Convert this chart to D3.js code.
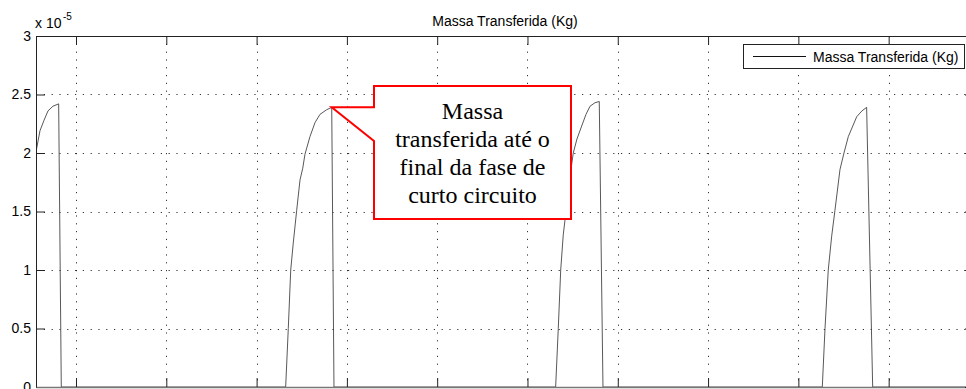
<!DOCTYPE html>
<html>
<head>
<meta charset="utf-8">
<script src="https://cdn.jsdelivr.net/npm/d3@7/dist/d3.min.js"></script>
<style>
  html, body { margin: 0; padding: 0; background: #fff; overflow: hidden; }
  svg { display: block; }
  .tick text { font-family: "Liberation Sans", Arial, sans-serif; font-size: 14px; fill: #000; }
</style>
</head>
<body>
<svg id="chart" width="966" height="389"></svg>
<script>
// Transferred mass per short-circuit cycle (values in units of 1e-5 kg)
const timeMs = [
  0.557, 0.601, 0.646, 0.690, 0.745, 0.808, 0.837,
  3.322, 3.351, 3.378, 3.406, 3.444, 3.481, 3.511, 3.536, 3.591, 3.647, 3.702, 3.776, 3.832, 3.857,
  6.312, 6.341, 6.368, 6.396, 6.434, 6.471, 6.507, 6.548, 6.600, 6.648, 6.693, 6.748, 6.795, 6.836,
  9.265, 9.295, 9.331, 9.369, 9.405, 9.461, 9.505, 9.553, 9.646, 9.704, 9.756, 9.823, 10.945
];
const massE5 = [
  2.01, 2.19, 2.28, 2.36, 2.40, 2.42, 0,
  0, 0.50, 1.00, 1.23, 1.51, 1.77, 1.87, 1.99, 2.14, 2.26, 2.33, 2.37, 2.39, 0,
  0, 0.50, 1.00, 1.30, 1.55, 1.80, 2.00, 2.12, 2.23, 2.33, 2.40, 2.43, 2.44, 0,
  0, 0.50, 1.00, 1.29, 1.51, 1.86, 2.00, 2.14, 2.31, 2.36, 2.39, 0, 0
];
const xTicks = [1, 2, 3, 4, 5, 6, 7, 8, 9, 10];
const yTicks = [0, 0.5, 1, 1.5, 2, 2.5, 3];
const yTickLabels = ["0", "0.5", "1", "1.5", "2", "2.5", "3"];
const xDomain = [0.557, 10.945];
const yDomain = [0, 3];
const chartTitle = "Massa Transferida (Kg)";
const legendLabel = "Massa Transferida (Kg)";
const calloutLines = ["Massa", "transferida até o", "final da fase de", "curto circuito"];
const calloutIndex = 19; // end of the short-circuit phase in the second cycle

const svg = d3.select("#chart");
const plot = { left: 36, top: 36, right: 974, bottom: 387 };

const x = d3.scaleLinear().domain(xDomain).range([plot.left, plot.right]);
const y = d3.scaleLinear().domain(yDomain).range([plot.bottom, plot.top]);

svg.append("defs").append("clipPath").attr("id", "plotClip")
  .append("rect")
  .attr("x", plot.left).attr("y", plot.top - 2)
  .attr("width", plot.right - plot.left).attr("height", plot.bottom - plot.top + 2);

// dotted grid
const grid = svg.append("g").attr("stroke", "#333").attr("stroke-width", 1)
  .attr("stroke-dasharray", "1.2,6.6");
grid.selectAll("line.gx").data(xTicks).join("line").attr("class", "gx")
  .attr("x1", d => Math.round(x(d)) + 0.5).attr("x2", d => Math.round(x(d)) + 0.5)
  .attr("y1", plot.top).attr("y2", plot.bottom);
grid.selectAll("line.gy").data(yTicks.filter(d => d > yDomain[0] && d < yDomain[1])).join("line").attr("class", "gy")
  .attr("x1", plot.left).attr("x2", plot.right)
  .attr("y1", d => Math.round(y(d)) + 0.5).attr("y2", d => Math.round(y(d)) + 0.5);

// data line
const points = timeMs.map((t, i) => [t, massE5[i]]);
svg.append("path")
  .datum(points)
  .attr("clip-path", "url(#plotClip)")
  .attr("fill", "none")
  .attr("stroke", "#3a3a3a")
  .attr("stroke-width", 0.85)
  .attr("d", d3.line().x(d => x(d[0])).y(d => y(d[1])));

// axes with inward ticks (box style)
const axisStyle = g => {
  g.select(".domain").attr("stroke", "#222");
  g.selectAll(".tick line").attr("stroke", "#222");
};
svg.append("g").attr("transform", `translate(${plot.left},0)`)
  .call(d3.axisLeft(y).tickValues(yTicks).tickFormat((d, i) => yTickLabels[i])
    .tickSizeInner(-9).tickSizeOuter(0).tickPadding(5))
  .call(axisStyle);
svg.append("g").attr("transform", `translate(0,${plot.top})`)
  .call(d3.axisTop(x).tickValues(xTicks).tickFormat("").tickSizeInner(-9).tickSizeOuter(0))
  .call(axisStyle);
svg.append("g").attr("transform", `translate(0,${plot.bottom})`)
  .call(d3.axisBottom(x).tickValues(xTicks).tickFormat("").tickSizeInner(-9).tickSizeOuter(0))
  .call(g => { g.select(".domain").attr("stroke", "#777").attr("stroke-width", 1.6);
               g.selectAll(".tick line").attr("stroke", "#222"); });
svg.append("g").attr("transform", `translate(${plot.right},0)`)
  .call(d3.axisRight(y).tickValues(yTicks).tickFormat("").tickSizeInner(-9).tickSizeOuter(0))
  .call(axisStyle);

// exponent label
const expo = svg.append("text")
  .attr("x", plot.left - 1).attr("y", 28)
  .attr("font-family", "Liberation Sans, Arial, sans-serif")
  .attr("font-size", 14).attr("fill", "#000");
expo.append("tspan").text("x 10");
expo.append("tspan").attr("font-size", 10).attr("dx", 1.5).attr("dy", -8).text("-5");

// title
svg.append("text")
  .attr("x", (plot.left + plot.right) / 2).attr("y", 26)
  .attr("text-anchor", "middle")
  .attr("font-family", "Liberation Sans, Arial, sans-serif")
  .attr("font-size", 14).attr("fill", "#000")
  .text(chartTitle);

// legend
const legend = svg.append("g");
legend.append("rect")
  .attr("x", 743.5).attr("y", 44.5).attr("width", 221).attr("height", 24)
  .attr("fill", "#fff").attr("stroke", "#222").attr("stroke-width", 1);
legend.append("line")
  .attr("x1", 753).attr("x2", 806).attr("y1", 56.5).attr("y2", 56.5)
  .attr("stroke", "#111").attr("stroke-width", 1);
legend.append("text")
  .attr("x", 813).attr("y", 61.5)
  .attr("font-family", "Liberation Sans, Arial, sans-serif")
  .attr("font-size", 14).attr("fill", "#000")
  .text(legendLabel);

// callout pointing to the peak of the second cycle
const tipX = x(timeMs[calloutIndex]);
const tipY = y(massE5[calloutIndex]);
const box = { left: 374, top: 86, right: 571, bottom: 219 };
const notchBottom = 141;
const callout = svg.append("g");
callout.append("path")
  .attr("d", `M${box.left},${box.top} L${box.right},${box.top} L${box.right},${box.bottom} ` +
             `L${box.left},${box.bottom} L${box.left},${notchBottom} L${tipX},${tipY} ` +
             `L${box.left},${tipY} Z`)
  .attr("fill", "#fff").attr("stroke", "#ff0000").attr("stroke-width", 2)
  .attr("stroke-linejoin", "miter");
callout.selectAll("text").data(calloutLines).join("text")
  .attr("x", (box.left + box.right) / 2)
  .attr("y", (d, i) => 119 + i * 28)
  .attr("text-anchor", "middle")
  .attr("font-family", "'Liberation Serif', 'Times New Roman', serif")
  .attr("font-size", 24).attr("fill", "#000")
  .text(d => d);
</script>
</body>
</html>
